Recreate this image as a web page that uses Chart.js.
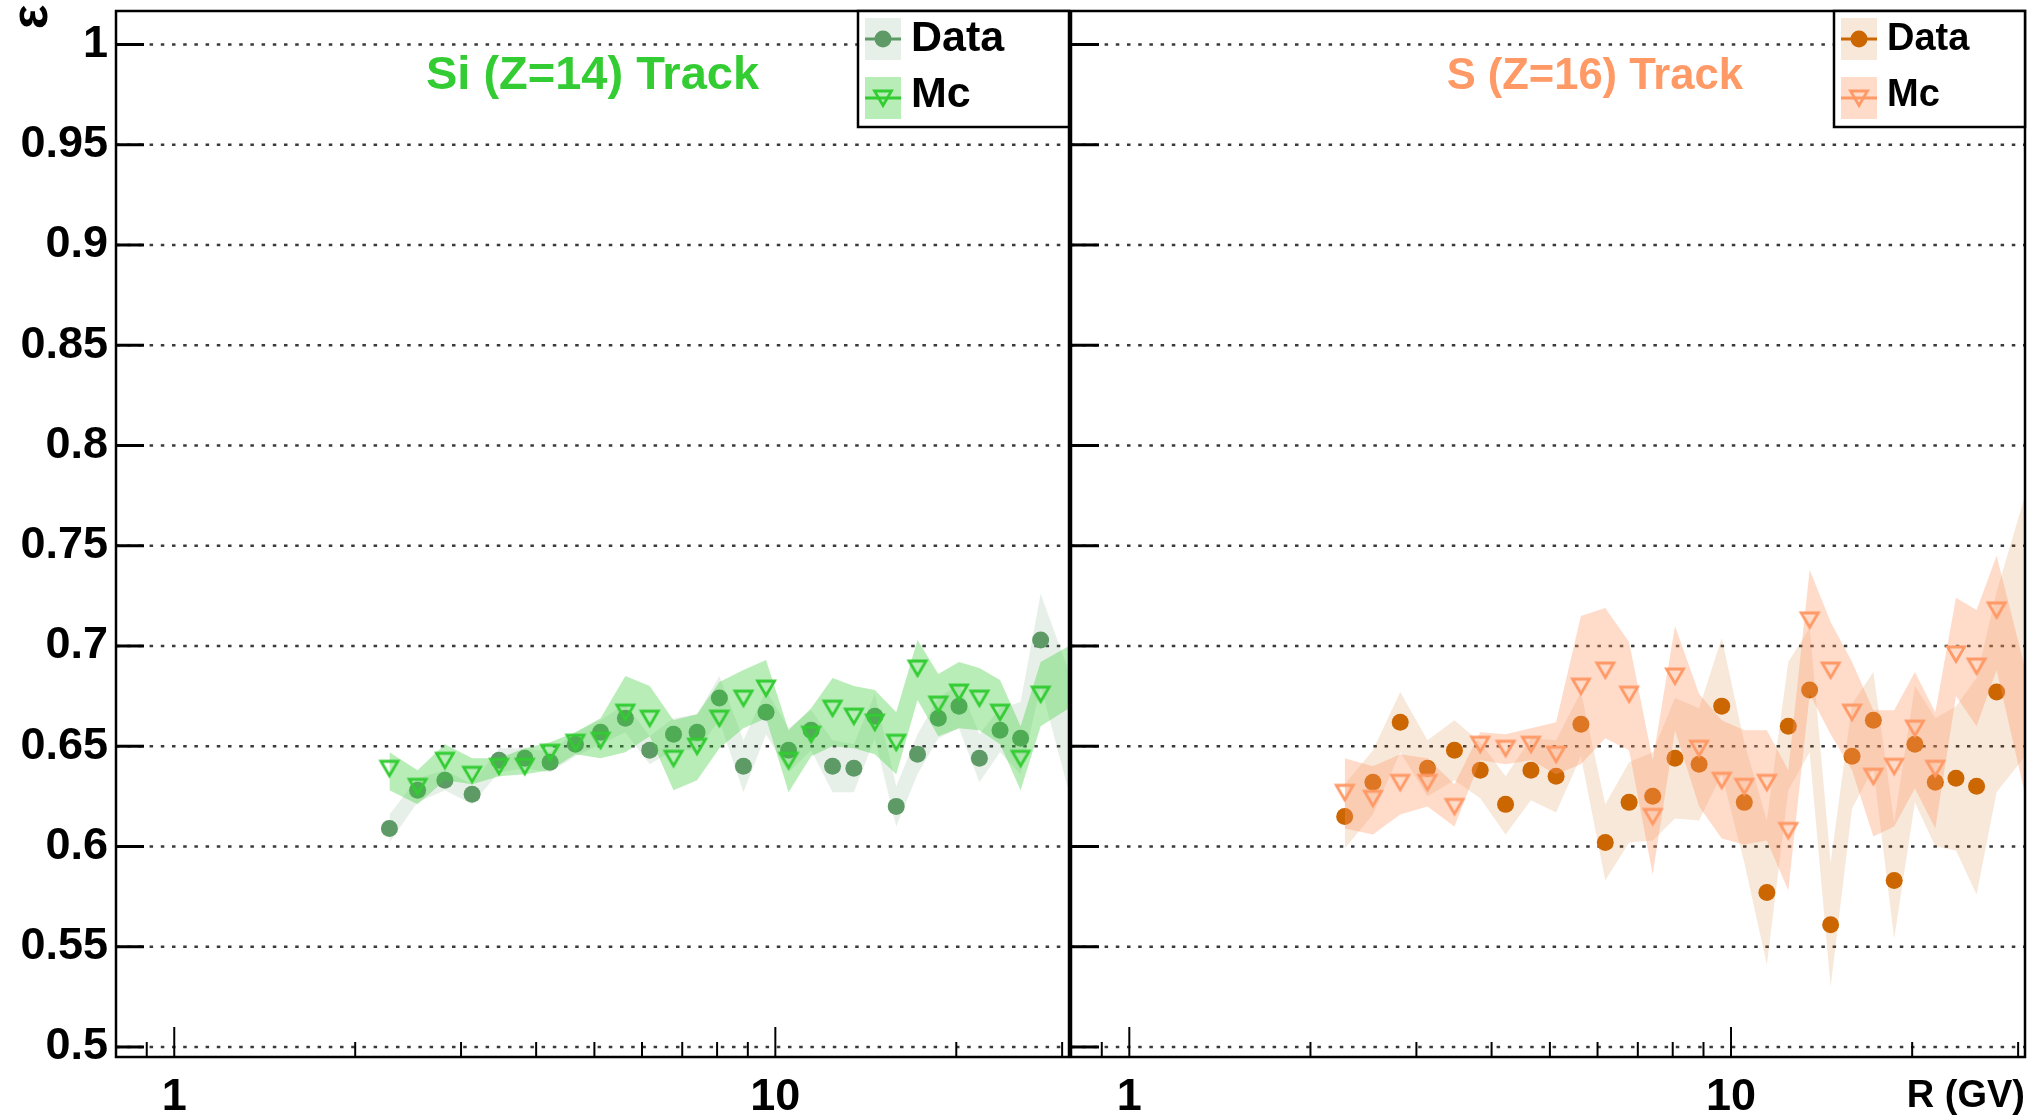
<!DOCTYPE html>
<html>
<head>
<meta charset="utf-8">
<title>Track efficiency vs rigidity</title>
<script src="https://cdn.jsdelivr.net/npm/chart.js@4.4.0/dist/chart.umd.min.js"></script>
<style>
  html, body { margin: 0; padding: 0; background: #fff; }
  #wrap { position: relative; width: 2039px; height: 1120px; overflow: hidden; background: #fff; }
  canvas { position: absolute; top: 0; }
  #leftChart { left: 0; }
  #rightChart { left: 1060px; }
</style>
</head>
<body>
<div id="wrap">
  <canvas id="leftChart" width="1080" height="1120"></canvas>
  <canvas id="rightChart" width="979" height="1120"></canvas>
</div>
<script>
// --- Data ---

// rigidity bin centres in GV, same for both panels; the last entry is where the bands run out of the frame
const rigidity = [2.28, 2.54, 2.82, 3.13, 3.47, 3.83, 4.22, 4.65, 5.12, 5.63, 6.18, 6.77, 7.41, 8.07, 8.85,
                  9.65, 10.52, 11.47, 12.45, 13.51, 14.64, 15.89, 17.24, 18.67, 20.21, 21.85, 23.65, 25.59, 27.63, 30.8];

// Si (Z=14)
const siData     = [0.609, 0.628, 0.633, 0.626, 0.643, 0.644, 0.642, 0.651, 0.657, 0.664, 0.648, 0.656, 0.657, 0.674, 0.640,
                    0.667, 0.648, 0.658, 0.640, 0.639, 0.665, 0.620, 0.646, 0.664, 0.670, 0.644, 0.658, 0.654, 0.703, null];
const siDataLow  = [0.602, 0.622, 0.628, 0.621, 0.637, 0.639, 0.637, 0.645, 0.651, 0.657, 0.641, 0.648, 0.648, 0.663, 0.627,
                    0.656, 0.637, 0.648, 0.627, 0.627, 0.654, 0.610, 0.636, 0.654, 0.659, 0.632, 0.647, 0.636, 0.680, 0.627];
const siDataHigh = [0.616, 0.634, 0.638, 0.631, 0.649, 0.649, 0.647, 0.657, 0.663, 0.671, 0.655, 0.664, 0.666, 0.685, 0.653,
                    0.678, 0.659, 0.668, 0.653, 0.651, 0.676, 0.630, 0.656, 0.674, 0.681, 0.656, 0.669, 0.672, 0.726, 0.687];
const siMc       = [0.639, 0.630, 0.643, 0.636, 0.640, 0.640, 0.647, 0.652, 0.653, 0.667, 0.664, 0.644, 0.650, 0.664, 0.674,
                    0.679, 0.643, 0.656, 0.669, 0.665, 0.662, 0.652, 0.689, 0.671, 0.677, 0.674, 0.667, 0.644, 0.676, null];
const siMcLow    = [0.628, 0.621, 0.633, 0.631, 0.635, 0.636, 0.638, 0.646, 0.644, 0.647, 0.655, 0.628, 0.633, 0.649, 0.659,
                    0.664, 0.627, 0.645, 0.650, 0.649, 0.646, 0.636, 0.673, 0.655, 0.659, 0.658, 0.651, 0.628, 0.660, 0.669];
const siMcHigh   = [0.647, 0.638, 0.651, 0.644, 0.644, 0.649, 0.652, 0.657, 0.664, 0.685, 0.680, 0.663, 0.666, 0.682, 0.688,
                    0.693, 0.658, 0.669, 0.684, 0.680, 0.678, 0.667, 0.703, 0.686, 0.692, 0.689, 0.683, 0.660, 0.692, 0.700];

// S (Z=16)
const sData      = [0.615, 0.632, 0.662, 0.639, 0.648, 0.638, 0.621, 0.638, 0.635, 0.661, 0.602, 0.622, 0.625, 0.644, 0.641,
                    0.670, 0.622, 0.577, 0.660, 0.678, 0.561, 0.645, 0.663, 0.583, 0.651, 0.632, 0.634, 0.630, 0.677, null];
const sDataLow   = [0.599, 0.616, 0.647, 0.625, 0.633, 0.624, 0.606, 0.623, 0.617, 0.645, 0.583, 0.602, 0.603, 0.614, 0.613,
                    0.636, 0.592, 0.541, 0.628, 0.647, 0.530, 0.619, 0.639, 0.554, 0.622, 0.600, 0.598, 0.576, 0.627, 0.645];
const sDataHigh  = [0.631, 0.648, 0.677, 0.653, 0.663, 0.652, 0.635, 0.654, 0.653, 0.677, 0.621, 0.642, 0.647, 0.674, 0.669,
                    0.704, 0.652, 0.613, 0.692, 0.709, 0.592, 0.671, 0.687, 0.612, 0.680, 0.664, 0.670, 0.684, 0.727, 0.775];
const sMc        = [0.627, 0.624, 0.632, 0.632, 0.620, 0.651, 0.649, 0.651, 0.646, 0.680, 0.688, 0.676, 0.615, 0.685, 0.649,
                    0.633, 0.630, 0.632, 0.608, 0.713, 0.688, 0.667, 0.635, 0.640, 0.659, 0.639, 0.696, 0.690, 0.718, null];
const sMcLow     = [0.609, 0.606, 0.616, 0.620, 0.610, 0.643, 0.641, 0.643, 0.636, 0.641, 0.654, 0.648, 0.586, 0.658, 0.620,
                    0.604, 0.601, 0.603, 0.578, 0.676, 0.656, 0.638, 0.605, 0.610, 0.629, 0.609, 0.675, 0.660, 0.688, 0.626];
const sMcHigh    = [0.644, 0.640, 0.646, 0.644, 0.631, 0.657, 0.656, 0.659, 0.662, 0.715, 0.719, 0.702, 0.643, 0.710, 0.676,
                    0.663, 0.658, 0.658, 0.638, 0.738, 0.712, 0.692, 0.668, 0.668, 0.687, 0.667, 0.724, 0.718, 0.745, 0.689];

// axis ticks
const yTicks = [0.5, 0.55, 0.6, 0.65, 0.7, 0.75, 0.8, 0.85, 0.9, 0.95, 1];
const xLabelTicks = [1, 10];
const xMinorTicks = [0.9, 2, 3, 4, 5, 6, 7, 8, 9, 20, 30];

const FONT = '"Liberation Sans", Arial, Helvetica, sans-serif';

// --- Panel look ---
const panels = {
    leftChart: {
        title: 'Si (Z=14) Track', titleColor: '#33cc33', titleSize: 47, titleX: 0.5,
        legendWidth: 211, legendFont: 43,
        dataColor: '#5e9a66', mcColor: '#33cc33',
        dataBand: 'rgba(94,154,102,0.15)', mcBand: 'rgba(51,204,51,0.35)',
        axisWidth: 116, padRight: 10, showYLabels: true, yTitle: true, xTitle: false,
        series: { data: siData, dataLow: siDataLow, dataHigh: siDataHigh, mc: siMc, mcLow: siMcLow, mcHigh: siMcHigh }
    },
    rightChart: {
        title: 'S (Z=16) Track', titleColor: '#ff9966', titleSize: 43.5, titleX: 0.549,
        legendWidth: 191, legendFont: 38,
        dataColor: '#cc6600', mcColor: '#ff9966',
        dataBand: 'rgba(204,102,0,0.15)', mcBand: 'rgba(255,153,102,0.35)',
        axisWidth: 11, padRight: 14, showYLabels: false, yTitle: false, xTitle: true,
        series: { data: sData, dataLow: sDataLow, dataHigh: sDataHigh, mc: sMc, mcLow: sMcLow, mcHigh: sMcHigh }
    }
};

// open down-pointing triangle, centred on its box like the ROOT marker
function makeTriangle(color) {
    const c = document.createElement('canvas');
    c.width = 26;
    c.height = 24;
    const g = c.getContext('2d');
    g.strokeStyle = color;
    g.lineWidth = 2.8;
    g.beginPath();
    g.moveTo(4.5, 5);
    g.lineTo(21.5, 5);
    g.lineTo(13, 19.5);
    g.closePath();
    g.stroke();
    return c;
}

function toPoints(values) {
    return rigidity.map((r, i) => ({ x: r, y: values[i] }));
}

// band = invisible upper line + lower line filled back to it
function bandDatasets(low, high, color, order) {
    return [
        { data: toPoints(high), borderWidth: 0, borderColor: 'transparent', pointRadius: 0, fill: false, order: order },
        { data: toPoints(low), borderWidth: 0, borderColor: 'transparent', pointRadius: 0, fill: '-1', backgroundColor: color, order: order }
    ];
}

// --- Frame, dotted grid, inward ticks, title and legend ---
const framePlugin = {
    id: 'frame',
    beforeDatasetsDraw(chart) {
        const { ctx, chartArea: a } = chart;
        const y = chart.scales.y;
        ctx.save();
        ctx.strokeStyle = '#3a3a3a';
        ctx.lineWidth = 2.7;
        ctx.setLineDash([3.5, 7.7]);
        yTicks.forEach(v => {
            const py = y.getPixelForValue(v);
            ctx.beginPath();
            ctx.moveTo(a.left, py);
            ctx.lineTo(a.right, py);
            ctx.stroke();
        });
        ctx.restore();
    },
    afterDatasetsDraw(chart) {
        const { ctx, chartArea: a } = chart;
        const x = chart.scales.x, y = chart.scales.y;
        const seg = (x1, y1, x2, y2) => { ctx.beginPath(); ctx.moveTo(x1, y1); ctx.lineTo(x2, y2); ctx.stroke(); };
        ctx.save();
        ctx.strokeStyle = '#000';
        ctx.lineWidth = 3;
        yTicks.forEach(v => { const py = y.getPixelForValue(v); seg(a.left, py, a.left + 28, py); });
        ctx.lineWidth = 2;
        xLabelTicks.forEach(v => { const px = x.getPixelForValue(v); seg(px, a.bottom, px, a.bottom - 30); });
        xMinorTicks.forEach(v => { const px = x.getPixelForValue(v); seg(px, a.bottom, px, a.bottom - 15); });
        ctx.lineWidth = 2.5;
        ctx.strokeRect(a.left, a.top, a.right - a.left, a.bottom - a.top);
        ctx.restore();
    },
    afterDraw(chart) {
        const p = panels[chart.canvas.id];
        const { ctx, chartArea: a } = chart;
        ctx.save();

        // panel title
        ctx.fillStyle = p.titleColor;
        ctx.font = 'bold ' + p.titleSize + 'px ' + FONT;
        ctx.textAlign = 'center';
        ctx.textBaseline = 'alphabetic';
        ctx.fillText(p.title, a.left + p.titleX * (a.right - a.left), 89);

        // legend box
        const lx = a.right - p.legendWidth, ly = a.top;
        ctx.fillStyle = '#fff';
        ctx.fillRect(lx, ly, p.legendWidth, 116);
        ctx.strokeStyle = '#000';
        ctx.lineWidth = 2.5;
        ctx.strokeRect(lx, ly, p.legendWidth, 116);

        const capShift = 0.36 * p.legendFont;
        const rows = [
            { label: 'Data', y: ly + 28, textY: ly + 25 + capShift, band: p.dataBand, color: p.dataColor, kind: 'circle' },
            { label: 'Mc', y: ly + 87, textY: ly + 81 + capShift, band: p.mcBand, color: p.mcColor, kind: 'triangle' }
        ];
        rows.forEach(r => {
            ctx.fillStyle = r.band;
            ctx.fillRect(lx + 7, r.y - 21, 36, 42);
            ctx.strokeStyle = r.color;
            ctx.lineWidth = 3;
            ctx.beginPath();
            ctx.moveTo(lx + 7, r.y);
            ctx.lineTo(lx + 43, r.y);
            ctx.stroke();
            if (r.kind === 'circle') {
                ctx.fillStyle = r.color;
                ctx.beginPath();
                ctx.arc(lx + 25, r.y, 8.5, 0, Math.PI * 2);
                ctx.fill();
            } else {
                const tri = p.triangle;
                ctx.drawImage(tri, lx + 25 - tri.width / 2, r.y - tri.height / 2);
            }
            ctx.fillStyle = '#000';
            ctx.font = 'bold ' + p.legendFont + 'px ' + FONT;
            ctx.textAlign = 'left';
            ctx.fillText(r.label, lx + 53, r.textY);
        });

        // axis titles
        ctx.fillStyle = '#000';
        if (p.yTitle) {
            ctx.save();
            ctx.translate(33, 17);
            ctx.rotate(-Math.PI / 2);
            ctx.font = 'bold 52px ' + FONT;
            ctx.textAlign = 'center';
            ctx.textBaseline = 'middle';
            ctx.fillText('ε', 0, 0);
            ctx.restore();
        }
        if (p.xTitle) {
            ctx.font = 'bold 38px ' + FONT;
            ctx.textAlign = 'right';
            ctx.textBaseline = 'middle';
            ctx.fillText('R (GV)', a.right, 1097);
        }
        ctx.restore();
    }
};

function makeChart(id) {
    const p = panels[id];
    const s = p.series;
    p.triangle = makeTriangle(p.mcColor);

    const datasets = [
        ...bandDatasets(s.dataLow, s.dataHigh, p.dataBand, 4),
        { data: toPoints(s.data), showLine: false, pointStyle: 'circle', pointRadius: 8.5,
          pointBackgroundColor: p.dataColor, pointBorderWidth: 0, order: 3 },
        ...bandDatasets(s.mcLow, s.mcHigh, p.mcBand, 2),
        { data: toPoints(s.mc), showLine: false, pointStyle: p.triangle, pointRadius: 10, order: 1 }
    ];

    const tickFont = { family: FONT, size: 45, weight: 'bold' };

    return new Chart(document.getElementById(id), {
        type: 'line',
        data: { datasets: datasets },
        options: {
            responsive: false,
            animation: false,
            events: [],
            layout: { padding: { top: 8, right: p.padRight, left: 0, bottom: 0 } },
            plugins: { legend: { display: false }, tooltip: { enabled: false } },
            scales: {
                x: {
                    type: 'logarithmic', min: 0.8, max: 30.8,
                    grid: { display: false, drawTicks: false }, border: { display: false },
                    afterBuildTicks: sc => { sc.ticks = xLabelTicks.map(v => ({ value: v })); },
                    afterFit: sc => { sc.height = 63; sc.paddingLeft = 0; sc.paddingRight = 0; },
                    ticks: { autoSkip: false, maxRotation: 0, padding: 14, color: '#000', font: tickFont,
                             callback: v => String(v) }
                },
                y: {
                    min: 0.495, max: 1.0167,
                    grid: { display: false, drawTicks: false }, border: { display: false },
                    afterBuildTicks: sc => { sc.ticks = yTicks.map(v => ({ value: v })); },
                    afterFit: sc => { sc.width = p.axisWidth; sc.paddingTop = 0; sc.paddingBottom = 0; },
                    ticks: { display: p.showYLabels, padding: 8, color: '#000', font: tickFont,
                             callback: v => String(+v.toFixed(2)) }
                }
            }
        },
        plugins: [framePlugin]
    });
}

makeChart('leftChart');
makeChart('rightChart');
</script>
</body>
</html>
